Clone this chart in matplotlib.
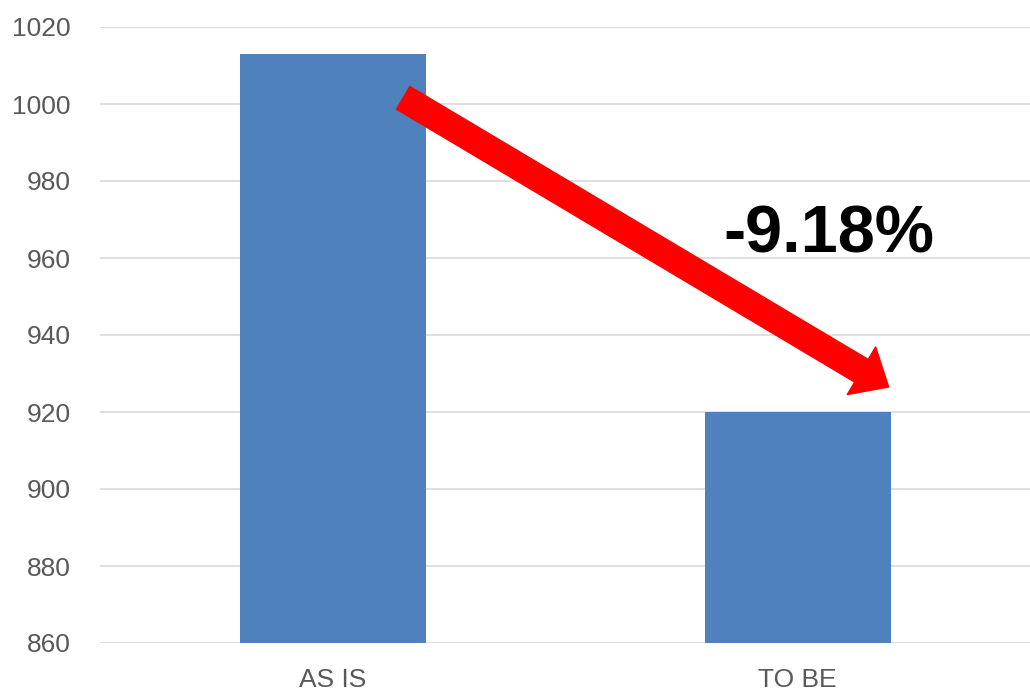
import matplotlib.pyplot as plt

plt.rcParams['font.family'] = ['Liberation Sans', 'DejaVu Sans']

# data
categories = ['AS IS', 'TO BE']
values = [1013, 920]
change_label = '-9.18%'
y_ticks = [860, 880, 900, 920, 940, 960, 980, 1000, 1020]

fig = plt.figure(figsize=(10.3, 6.93), dpi=100)
ax = fig.add_axes([100 / 1030, 50 / 693, 930 / 1030, 616 / 693])

x = list(range(len(categories)))
ax.bar(x, values, width=0.4, color='#4f81bd', zorder=2)

ax.set_xlim(-0.5, 1.5)
ax.set_ylim(860, 1020)
ax.set_yticks(y_ticks)
ax.set_xticks(x)
ax.set_xticklabels(categories)

# 网格线
ax.grid(axis='y', color='#d9d9d9', linewidth=1.2, zorder=0)
ax.set_axisbelow(True)
for s in ax.spines.values():
    s.set_visible(False)
ax.tick_params(axis='both', length=0, labelsize=19, labelcolor='#595959')
ax.tick_params(axis='y', pad=21)
ax.tick_params(axis='x', pad=18)

# 红色箭头
ax.annotate('', xy=(1.196, 926.5), xytext=(0.152, 1001.6),
            arrowprops=dict(arrowstyle='simple,head_length=1.2,head_width=2.1,tail_width=1.0',
                            color='#ff0000', shrinkA=0, shrinkB=0,
                            mutation_scale=19),
            zorder=3)
ax.text(1.068, 965.8, change_label, fontsize=48, fontweight='bold',
        ha='center', va='center', color='black', zorder=4)

fig.savefig('out.png', dpi=100)
